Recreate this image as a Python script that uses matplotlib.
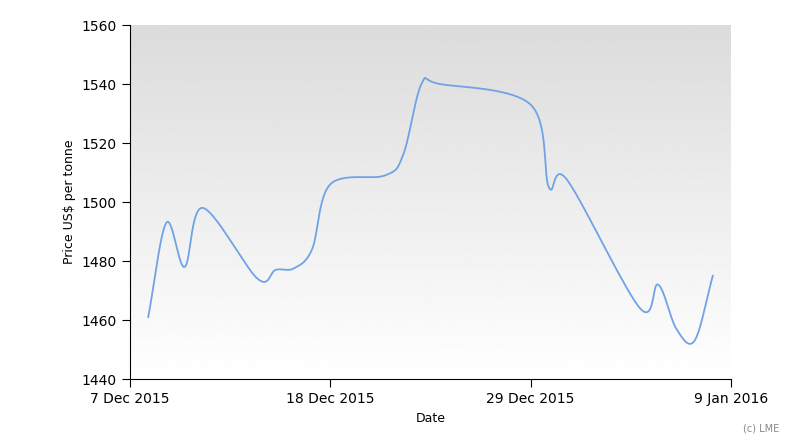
import numpy as np
import matplotlib
matplotlib.use("Agg")
import matplotlib.pyplot as plt
import matplotlib.dates as mdates

dates = ["2015-12-08", "2015-12-09", "2015-12-10", "2015-12-11", "2015-12-14",
         "2015-12-15", "2015-12-16", "2015-12-17", "2015-12-18", "2015-12-21",
         "2015-12-22", "2015-12-23", "2015-12-24", "2015-12-29", "2015-12-30",
         "2015-12-31", "2016-01-04", "2016-01-05", "2016-01-06", "2016-01-07",
         "2016-01-08"]
prices = [1461, 1493, 1478, 1498, 1474, 1477, 1477.5, 1484, 1506, 1509,
          1516, 1540, 1540, 1533, 1505, 1507.5, 1464, 1472, 1457, 1453, 1475]
tick_dates = ["2015-12-07", "2015-12-18", "2015-12-29", "2016-01-09"]
tick_labels = ["7 Dec 2015", "18 Dec 2015", "29 Dec 2015", "9 Jan 2016"]


def catmull_rom(x, y, n=30):
    # smooth curve through the points, like the original chart's spline
    x = np.asarray(x, float); y = np.asarray(y, float)
    xp = np.r_[2 * x[0] - x[1], x, 2 * x[-1] - x[-2]]
    yp = np.r_[2 * y[0] - y[1], y, 2 * y[-1] - y[-2]]
    xs, ys = [], []
    t = np.linspace(0, 1, n, endpoint=False)
    for i in range(1, len(xp) - 2):
        for arr, out in ((xp, xs), (yp, ys)):
            p0, p1, p2, p3 = arr[i - 1:i + 3]
            out.append(0.5 * (2 * p1 + (-p0 + p2) * t + (2 * p0 - 5 * p1 + 4 * p2 - p3) * t ** 2
                              + (-p0 + 3 * p1 - 3 * p2 + p3) * t ** 3))
    return np.r_[np.concatenate(xs), x[-1]], np.r_[np.concatenate(ys), y[-1]]


xd = mdates.date2num(np.array(dates, dtype="datetime64[D]"))
xs, ys = catmull_rom(xd, prices)

fig = plt.figure(figsize=(7.91, 4.4), dpi=100)
ax = fig.add_axes([130 / 791, 1 - 379 / 440, 601 / 791, 354 / 440])
x0, x1 = mdates.date2num(np.datetime64("2015-12-07")), mdates.date2num(np.datetime64("2016-01-09"))
grad = np.linspace(0.86, 1.0, 256)[:, None]
ax.imshow(grad, cmap="gray", vmin=0, vmax=1, aspect="auto", origin="upper",
          extent=[x0, x1, 1440, 1560], zorder=0)
ax.plot(xs, ys, color="#6fa3e6", lw=1.3, zorder=2)
ax.set_xlim(x0, x1)
ax.set_ylim(1440, 1560)
ax.set_xticks(mdates.date2num(np.array(tick_dates, dtype="datetime64[D]")))
ax.set_xticklabels(tick_labels)
ax.set_yticks(range(1440, 1561, 20))
for s in ("top", "right"):
    ax.spines[s].set_visible(False)
ax.tick_params(direction="out", length=6, labelsize=10)
ax.set_xlabel("Date", fontsize=9)
ax.set_ylabel("Price US$ per tonne", fontsize=9)
fig.text(0.985, 0.02, "(c) LME", ha="right", fontsize=7, color="#888888")
fig.savefig("out.png", dpi=100)
